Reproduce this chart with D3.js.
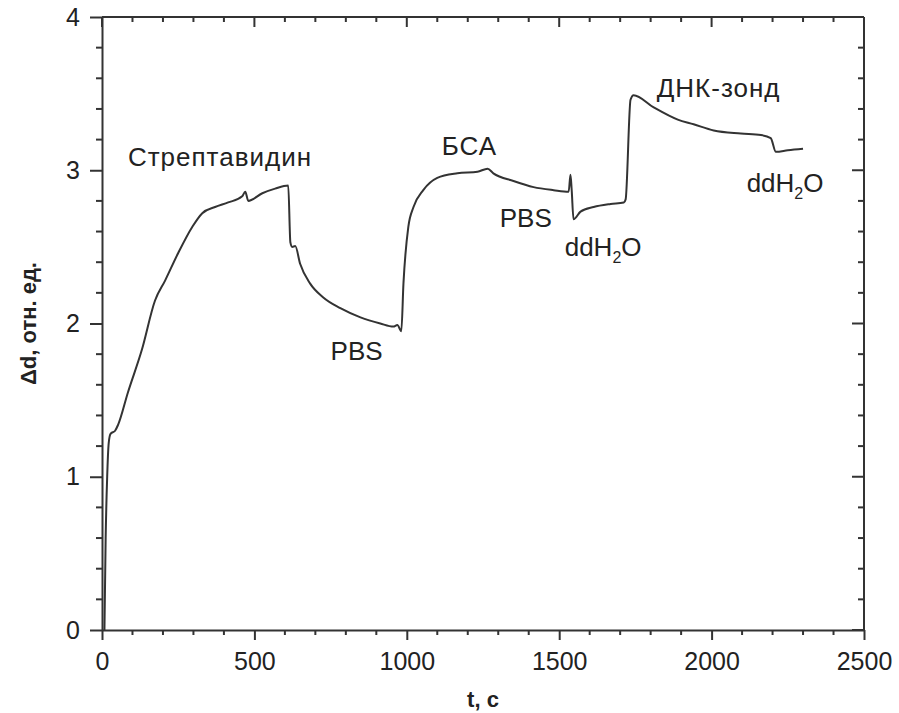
<!DOCTYPE html>
<html>
<head>
<meta charset="utf-8">
<script src="https://cdn.jsdelivr.net/npm/d3@7"></script>
<style>
  body { margin: 0; background: #fff; }
  svg { display: block; }
  text { font-family: "Liberation Sans", Arial, Helvetica, sans-serif; fill: #222; }
</style>
</head>
<body>
<svg id="chart" width="899" height="713"></svg>
<script>
// ---- data ----
const timeSec = [8, 12, 17, 22, 28, 43, 53, 85, 131, 174, 207, 250, 296, 329, 371, 414, 460, 470, 480, 526, 568, 611, 618, 624, 634, 650, 683, 726, 782, 848, 913, 956, 969, 982, 989, 1005, 1022, 1054, 1100, 1166, 1232, 1265, 1284, 1350, 1416, 1482, 1531, 1537, 1541, 1547, 1570, 1613, 1669, 1712, 1718, 1734, 1744, 1810, 1889, 1941, 2007, 2096, 2162, 2194, 2211, 2250, 2300];
const deltaD  = [0, 0.6, 1.0, 1.22, 1.28, 1.30, 1.34, 1.55, 1.83, 2.15, 2.28, 2.46, 2.63, 2.72, 2.76, 2.79, 2.83, 2.86, 2.80, 2.85, 2.88, 2.90, 2.53, 2.50, 2.505, 2.39, 2.26, 2.17, 2.10, 2.04, 2.00, 1.98, 1.99, 1.95, 2.26, 2.63, 2.76, 2.87, 2.95, 2.98, 2.99, 3.01, 2.98, 2.93, 2.89, 2.87, 2.86, 2.97, 2.87, 2.68, 2.73, 2.76, 2.78, 2.79, 2.81, 3.46, 3.49, 3.41, 3.33, 3.30, 3.26, 3.24, 3.23, 3.21, 3.12, 3.13, 3.14];
const xTicks = [0, 500, 1000, 1500, 2000, 2500];
const yTicks = [0, 1, 2, 3, 4];
const xMinorTicks = [100, 200, 300, 400, 600, 700, 800, 900, 1100, 1200, 1300, 1400, 1600, 1700, 1800, 1900, 2100, 2200, 2300, 2400];
const yMinorTicks = [0.2, 0.4, 0.6, 0.8, 1.2, 1.4, 1.6, 1.8, 2.2, 2.4, 2.6, 2.8, 3.2, 3.4, 3.6, 3.8];
const annotations = [
  { text: "Стрептавидин", t: 85,   d: 3.03 },
  { text: "PBS",          t: 750,  d: 1.76 },
  { text: "БСА",          t: 1115, d: 3.1 },
  { text: "PBS",          t: 1305, d: 2.63 },
  { text: "ddH|2|O",      t: 1518, d: 2.44 },
  { text: "ДНК-зонд",     t: 1820, d: 3.48 },
  { text: "ddH|2|O",      t: 2115, d: 2.86 }
];

// ---- layout ----
const svg = d3.select("#chart");
const mLeft = 102, mRight = 864, mTop = 17, mBottom = 630;
const x = d3.scaleLinear().domain([0, 2500]).range([mLeft, mRight]);
const y = d3.scaleLinear().domain([0, 4]).range([mBottom, mTop]);
const axisColor = "#333";

// labelled axes (bottom, left) via d3 axis
const gb = svg.append("g").attr("transform", `translate(0,${mBottom})`)
  .call(d3.axisBottom(x).tickValues(xTicks).tickSize(10).tickSizeOuter(0).tickPadding(12).tickFormat(d3.format("d")));
const gl = svg.append("g").attr("transform", `translate(${mLeft},0)`)
  .call(d3.axisLeft(y).tickValues(yTicks).tickSize(12).tickSizeOuter(0).tickPadding(10).tickFormat(d3.format("d")));
[gb, gl].forEach(g => {
  g.selectAll("path.domain").attr("stroke", axisColor).attr("stroke-width", 2);
  g.selectAll("line").attr("stroke", axisColor).attr("stroke-width", 2);
  g.selectAll("text").attr("font-size", 25).attr("fill", "#222")
    .style("font-family", "Liberation Sans, Arial, sans-serif");
});

// frame lines (top, right)
const frame = svg.append("g").attr("stroke", axisColor).attr("stroke-width", 2).attr("fill", "none");
frame.append("line").attr("x1", x(0)).attr("x2", x(2500)).attr("y1", y(4)).attr("y2", y(4));
frame.append("line").attr("x1", x(2500)).attr("x2", x(2500)).attr("y1", y(0)).attr("y2", y(4));

// tick marks: x ticks pointing down at both bottom and top; y ticks pointing left at both left and right
const ticks = svg.append("g");
const xTickSet = xTicks.map(v => ({ v, len: 10 })).concat(xMinorTicks.map(v => ({ v, len: 5 })));
const yTickSet = yTicks.map(v => ({ v, len: 12 })).concat(yMinorTicks.map(v => ({ v, len: 6 })));

[y(0), y(4)].forEach((yy, k) => {
  ticks.append("g").selectAll("line")
    .data(k === 0 ? xTickSet.filter(d => d.len === 5) : xTickSet)
    .join("line")
    .attr("stroke", axisColor).attr("stroke-width", 2)
    .attr("x1", d => x(d.v)).attr("x2", d => x(d.v))
    .attr("y1", yy).attr("y2", d => yy + d.len);
});
[x(0), x(2500)].forEach((xx, k) => {
  ticks.append("g").selectAll("line")
    .data(k === 0 ? yTickSet.filter(d => d.len === 6) : yTickSet)
    .join("line")
    .attr("stroke", axisColor).attr("stroke-width", 2)
    .attr("y1", d => y(d.v)).attr("y2", d => y(d.v))
    .attr("x1", xx).attr("x2", d => xx - d.len);
});

// data line
const pts = timeSec.map((t, i) => [t, deltaD[i]]);
svg.append("path")
  .datum(pts)
  .attr("fill", "none")
  .attr("stroke", "#333")
  .attr("stroke-width", 2)
  .attr("stroke-linejoin", "round")
  .attr("d", d3.line().curve(d3.curveMonotoneX).x(d => x(d[0])).y(d => y(d[1])));

// annotations
annotations.forEach(a => {
  const cyr = /[А-Яа-я]/.test(a.text);
  const tx = svg.append("text")
    .attr("x", x(a.t)).attr("y", y(a.d))
    .attr("font-size", 26)
    .attr("letter-spacing", cyr ? 1 : 0);
  const parts = a.text.split("|");
  if (parts.length === 1) {
    tx.text(a.text);
  } else {
    tx.append("tspan").text(parts[0]);
    tx.append("tspan").text(parts[1]).attr("font-size", 16).attr("dy", 7);
    tx.append("tspan").text(parts[2]).attr("dy", -7);
  }
});

// axis titles
svg.append("text")
  .attr("x", x(1250)).attr("y", 707)
  .attr("text-anchor", "middle")
  .attr("font-size", 22).attr("font-weight", "bold")
  .text("t, c");

svg.append("text")
  .attr("transform", `translate(36,${y(2)}) rotate(-90)`)
  .attr("text-anchor", "middle")
  .attr("font-size", 22).attr("font-weight", "bold")
  .text("Δd, отн. ед.");
</script>
</body>
</html>
